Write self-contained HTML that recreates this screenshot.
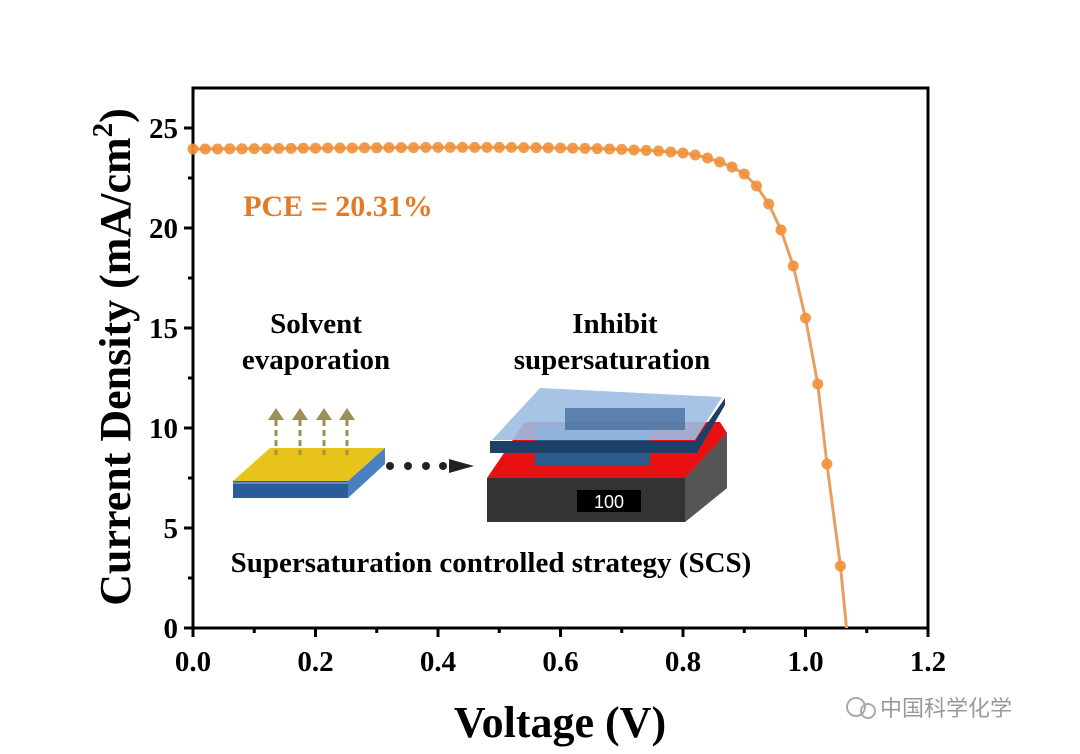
<!DOCTYPE html>
<html><head><meta charset="utf-8"><style>
body{margin:0;background:#fff;}
svg{display:block;font-family:"Liberation Serif",serif;font-weight:bold;}
</style></head><body>
<svg id="chart" width="1080" height="754" viewBox="0 0 1080 754">
<g id="inset">
  <text x="316" y="333" font-size="29" text-anchor="middle">Solvent</text>
  <text x="316" y="369" font-size="29" text-anchor="middle">evaporation</text>
  <text x="615" y="333" font-size="29" text-anchor="middle">Inhibit</text>
  <text x="612" y="369" font-size="29" text-anchor="middle">supersaturation</text>
  <g>
    <polygon points="233,481 348,481 385,448 270,448" fill="#e8c41a"/>
    <polygon points="233,481 348,481 348,498 233,498" fill="#2b5c9a"/>
    <polygon points="348,481 385,448 385,464 348,498" fill="#4a7fc0"/>
    <line x1="233" y1="483" x2="348" y2="483" stroke="#6ea0dc" stroke-width="1.5"/>
  </g>
  <g fill="#9c8f5a" stroke="#9c8f5a">
    <line x1="276" y1="420" x2="276" y2="455" stroke-width="3" stroke-dasharray="6,4"/><polygon points="268,420 276,408 284,420" stroke="none"/>
    <line x1="300" y1="420" x2="300" y2="455" stroke-width="3" stroke-dasharray="6,4"/><polygon points="292,420 300,408 308,420" stroke="none"/>
    <line x1="324" y1="420" x2="324" y2="455" stroke-width="3" stroke-dasharray="6,4"/><polygon points="316,420 324,408 332,420" stroke="none"/>
    <line x1="347" y1="420" x2="347" y2="455" stroke-width="3" stroke-dasharray="6,4"/><polygon points="339,420 347,408 355,420" stroke="none"/>
  </g>
  <g fill="#222">
    <circle cx="390" cy="466" r="4"/><circle cx="408" cy="466" r="4"/><circle cx="426" cy="466" r="4"/><circle cx="443" cy="466" r="4"/>
    <polygon points="449,459 474,466 449,473"/>
  </g>
  <g>
    <polygon points="487,478 685,478 727,433 727,488 685,522 487,522" fill="#333"/>
    <polygon points="685,478 727,433 727,488 685,522" fill="#555"/>
    <polygon points="487,478 685,478 727,433 720,422 525,422" fill="#e81010"/>
    <rect x="577" y="490" width="64" height="22" fill="#000"/>
    <text x="609" y="508" font-size="18" fill="#fff" text-anchor="middle" font-family="Liberation Sans,sans-serif" font-weight="normal">100</text>
  </g>
  <g>
    <rect x="535" y="425" width="115" height="40" fill="#2b5a8e"/>
    <polygon points="492,440 695,440 722,397 540,388" fill="#9dbde3" opacity="0.9"/>
    <polygon points="565,408 685,408 685,430 565,430" fill="#3c6596" opacity="0.7"/>
    <polygon points="490,441 695,441 725,398 725,405 697,453 490,453" fill="#1e3f66"/>
  </g>
  <text x="491" y="572" font-size="29" text-anchor="middle">Supersaturation controlled strategy (SCS)</text>
</g>
<g id="axes"></g>
<g id="series"></g>
<text x="338" y="216" font-size="30" fill="#e57a25" text-anchor="middle">PCE = 20.31%</text>
<text x="560" y="737" font-size="44" text-anchor="middle">Voltage (V)</text>
<text transform="translate(130,357) rotate(-90)" font-size="44" text-anchor="middle">Current Density (mA/cm<tspan dy="-18" font-size="29">2</tspan><tspan dy="18">)</tspan></text>
<g>
  <circle cx="856" cy="707" r="9" fill="none" stroke="#aaa" stroke-width="2"/><circle cx="868" cy="711" r="7" fill="none" stroke="#aaa" stroke-width="2"/>
  <text x="880" y="716" font-size="22" fill="#999" font-weight="normal" font-family="Liberation Sans,'Noto Sans CJK SC',sans-serif">中国科学化学</text>
</g>
</svg>
<script>
const voltages=[0,0.02,0.04,0.06,0.08,0.10,0.12,0.14,0.16,0.18,0.20,0.22,0.24,0.26,0.28,0.30,0.32,0.34,0.36,0.38,0.40,0.42,0.44,0.46,0.48,0.50,0.52,0.54,0.56,0.58,0.60,0.62,0.64,0.66,0.68,0.70,0.72,0.74,0.76,0.78,0.80,0.82,0.84,0.86,0.88,0.90,0.92,0.94,0.96,0.98,1.00,1.02,1.035,1.057];
const currents=[23.95,23.95,23.95,23.96,23.96,23.97,23.97,23.98,23.98,23.99,23.99,24.0,24.0,24.0,24.01,24.01,24.02,24.02,24.02,24.03,24.03,24.03,24.03,24.03,24.03,24.03,24.03,24.02,24.02,24.01,24.0,23.99,23.98,23.97,23.95,23.93,23.9,23.88,23.85,23.8,23.75,23.65,23.5,23.3,23.05,22.7,22.1,21.2,19.9,18.1,15.5,12.2,8.2,3.1];
const xTicks=[0,0.2,0.4,0.6,0.8,1.0,1.2];
const xTickLabels=["0.0","0.2","0.4","0.6","0.8","1.0","1.2"];
const yTicks=[0,5,10,15,20,25];
const yTickLabels=["0","5","10","15","20","25"];
const X0=193,X1=928,Y0=628,Y1=88;
const xs=v=>X0+v/1.2*(X1-X0);
const ys=v=>Y0-v/27*(Y0-Y1);
const NS="http://www.w3.org/2000/svg";
function mk(tag,attrs,parent){const e=document.createElementNS(NS,tag);for(const k in attrs)e.setAttribute(k,attrs[k]);parent.appendChild(e);return e;}
const ax=document.getElementById('axes');
const frame=mk('rect',{x:X0,y:Y1,width:X1-X0,height:Y0-Y1,fill:'none',stroke:'#000','stroke-width':3},ax);


xTicks.forEach((t,i)=>{
  const x=xs(t);
  const tk=mk('line',{x1:x,x2:x,y1:Y0,y2:Y0+9,stroke:'#000','stroke-width':3},ax);
  
  
  if(i<xTicks.length-1){const m=mk('line',{x1:xs(t+0.1),x2:xs(t+0.1),y1:Y0,y2:Y0+5,stroke:'#000','stroke-width':3},ax);
  
  }
  const lb=mk('text',{x:x,y:Y0+43,'font-size':29,'text-anchor':'middle'},ax);lb.textContent=xTickLabels[i];
  
  
});
yTicks.forEach((t,i)=>{
  const y=ys(t);
  const tk=mk('line',{x1:X0-9,x2:X0,y1:y,y2:y,stroke:'#000','stroke-width':3},ax);
  
  
  if(i<yTicks.length-1){const m=mk('line',{x1:X0-5,x2:X0,y1:ys(t+2.5),y2:ys(t+2.5),stroke:'#000','stroke-width':3},ax);
  
  }
  const lb=mk('text',{x:X0-15,y:y+10,'font-size':29,'text-anchor':'end'},ax);lb.textContent=yTickLabels[i];
  
  
});
const sg=document.getElementById('series');
let d=voltages.map((v,i)=>(i?'L':'M')+xs(v)+','+ys(currents[i])).join(' ');
d+=' L'+xs(1.067)+','+ys(0);
const line=mk('path',{d:d,fill:'none',stroke:'#e8a060','stroke-width':3},sg);


voltages.forEach((v,i)=>{
  const c=mk('circle',{cx:xs(v),cy:ys(currents[i]),r:5.5,fill:'#f0903a','fill-opacity':0.9},sg);
  
  
});
</script>
</body></html>
